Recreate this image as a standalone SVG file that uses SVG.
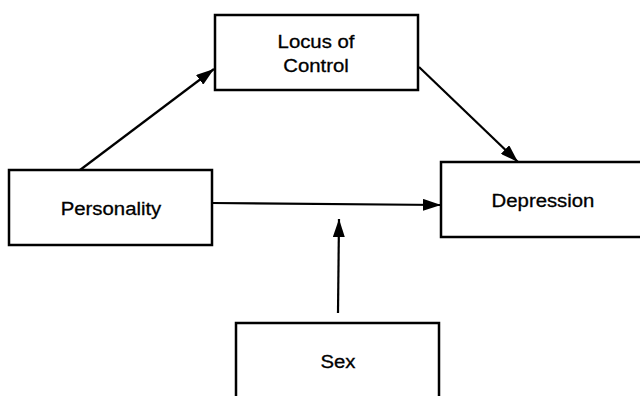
<svg xmlns="http://www.w3.org/2000/svg" width="640" height="396" viewBox="0 0 640 396">
<style>
.box{fill:#fff;stroke:#000;stroke-width:2.5}
.lbl{font-family:"Liberation Sans",Arial,sans-serif;font-size:18px;fill:#000;stroke:#000;stroke-width:0.3;text-anchor:middle}
.edge{stroke:#000;stroke-width:2.2;fill:none;marker-end:url(#ah)}
</style>
<defs>
<marker id="ah" viewBox="0 0 18 12" refX="18" refY="6" markerWidth="18" markerHeight="12" markerUnits="userSpaceOnUse" orient="auto">
<path d="M0,0 L18,6 L0,12 Z" fill="#000"/>
</marker>
</defs>
<rect width="640" height="396" fill="#fff"/>
<g id="edges">
<line class="edge" x1="80" y1="170" x2="214" y2="69"/>
<line class="edge" x1="419" y1="67" x2="518" y2="162"/>
<line class="edge" x1="212" y1="203" x2="441" y2="205"/>
<line class="edge" x1="338" y1="313" x2="339" y2="219"/>
</g>
<g id="locus">
<rect class="box" x="215" y="15" width="203" height="75"/>
<text class="lbl" transform="translate(316,48) scale(1.13,1)">Locus of</text>
<text class="lbl" transform="translate(316,72) scale(1.13,1)">Control</text>
</g>
<g id="personality">
<rect class="box" x="9" y="170" width="203" height="75"/>
<text class="lbl" transform="translate(111,215) scale(1.13,1)">Personality</text>
</g>
<g id="depression">
<rect class="box" x="441" y="162" width="220" height="75"/>
<text class="lbl" transform="translate(543,207) scale(1.13,1)">Depression</text>
</g>
<g id="sex">
<rect class="box" x="236" y="323" width="203" height="100"/>
<text class="lbl" transform="translate(338,368) scale(1.13,1)">Sex</text>
</g>
</svg>
